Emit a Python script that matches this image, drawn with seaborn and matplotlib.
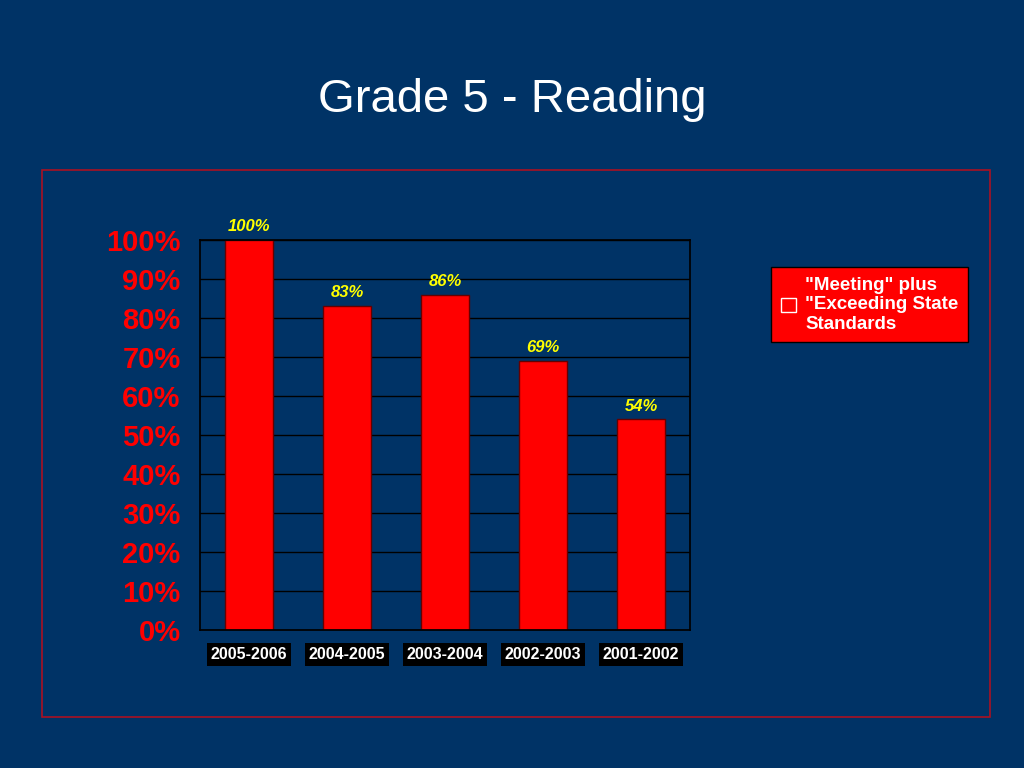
import matplotlib.pyplot as plt
import matplotlib.patches as mpatches
import seaborn as sns
import pandas as pd

sns.set_theme(style="white")
plt.rcParams['font.family'] = ['Liberation Sans', 'DejaVu Sans']

years = ["2005-2006", "2004-2005", "2003-2004", "2002-2003", "2001-2002"]
pct = [100, 83, 86, 69, 54]
series_name = '"Meeting" plus\n"Exceeding State\nStandards'

bg = "#003366"
df = pd.DataFrame({"year": years, "pct": pct})

fig = plt.figure(figsize=(10.24, 7.68), dpi=100, facecolor=bg)
fig.text(0.5, 0.87, "Grade 5 - Reading", color="white", fontsize=34,
         ha="center", va="center", family=["Liberation Sans", "DejaVu Sans"])

# red frame around chart area
fig.patches.append(mpatches.Rectangle((42 / 1024, 1 - 717 / 768), 948 / 1024, 547 / 768,
                                      transform=fig.transFigure, fill=False,
                                      edgecolor="#aa1122", lw=1.2))

ax = fig.add_axes([200 / 1024, 1 - 630 / 768, 490 / 1024, 390 / 768])
ax.set_facecolor(bg)
sns.barplot(data=df, x="year", y="pct", color="#ff0000", width=0.48,
            edgecolor="#660000", linewidth=1, saturation=1, ax=ax)
ax.set_ylim(0, 100)
ax.set_yticks(range(0, 101, 10))
ax.set_yticklabels([f"{v}%" for v in range(0, 101, 10)], color="#ff0000",
                   fontsize=21, fontweight="bold")
ax.yaxis.grid(True, color="black", lw=1)
ax.set_axisbelow(True)
for s in ax.spines.values():
    s.set_color("black")
ax.tick_params(axis="y", length=0, pad=14)
ax.tick_params(axis="x", length=0, pad=12)
ax.set_xlabel("")
ax.set_ylabel("")
ax.set_xticks(range(len(years)))
ax.set_xticklabels(years, color="white", fontsize=11.5, fontweight="bold",
                   bbox=dict(facecolor="black", edgecolor="none", pad=3))

for i, v in enumerate(pct):
    ax.text(i, v + 1.5, f"{v}%", color="#ffff00", fontsize=12, fontweight="bold",
            fontstyle="italic", ha="center", va="bottom")

leg = fig.legend(handles=[mpatches.Patch(facecolor="#ff0000", edgecolor="white")],
                 labels=[series_name], loc="upper left",
                 bbox_to_anchor=(762 / 1024, 1 - 258 / 768), frameon=True,
                 fontsize=13.5, handlelength=0.8, handleheight=0.8, borderpad=0.5,
                 handletextpad=0.5)
leg.get_frame().set_facecolor("#ff0000")
leg.get_frame().set_edgecolor("black")
leg.get_frame().set_alpha(1)
leg.get_frame().set_boxstyle("square", pad=0)
for t in leg.get_texts():
    t.set_color("white")
    t.set_fontweight("bold")

fig.savefig("out.png", dpi=100, facecolor=bg)
